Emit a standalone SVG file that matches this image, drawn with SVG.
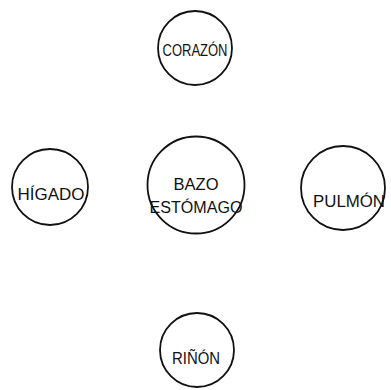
<svg xmlns="http://www.w3.org/2000/svg" width="391" height="390" viewBox="0 0 391 390">
<style>
.n{fill:#fff;stroke:#111;stroke-width:1.8}
.t{font-family:"Liberation Sans",Arial,sans-serif;font-size:16px;fill:#111;text-anchor:middle}
</style>
<rect width="391" height="390" fill="#fff"/>
<g id="connectors"></g>
<g id="corazon"><circle class="n" cx="195" cy="48" r="37"/><text class="t" x="195" y="56" textLength="65" lengthAdjust="spacingAndGlyphs">CORAZÓN</text></g>
<g id="bazo"><circle class="n" cx="196" cy="185" r="48.5"/><text class="t" x="196" y="190" textLength="45" lengthAdjust="spacingAndGlyphs">BAZO</text><text class="t" x="196" y="213" textLength="93" lengthAdjust="spacingAndGlyphs">ESTÓMAGO</text></g>
<g id="higado"><circle class="n" cx="50" cy="187" r="38"/><text class="t" x="51" y="200" textLength="67" lengthAdjust="spacingAndGlyphs">HÍGADO</text></g>
<g id="pulmon"><circle class="n" cx="343" cy="188" r="42"/><text class="t" x="349" y="207" textLength="72" lengthAdjust="spacingAndGlyphs">PULMÓN</text></g>
<g id="rinon"><circle class="n" cx="197" cy="350" r="37"/><text class="t" x="196" y="364" textLength="48" lengthAdjust="spacingAndGlyphs">RIÑÓN</text></g>
</svg>
